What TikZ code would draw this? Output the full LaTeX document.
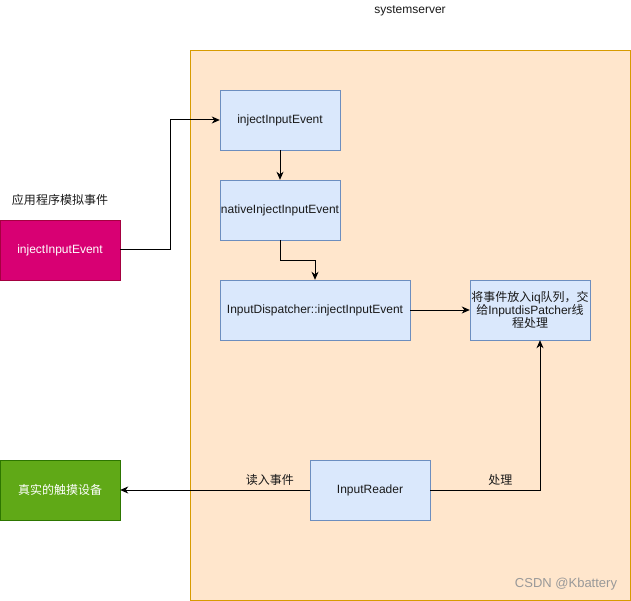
\documentclass[tikz,border=0pt]{standalone}
\usepackage{fontspec}
\setmainfont{Liberation Sans}
\newfontfamily\cjk{Noto Sans CJK SC}
\newcommand\zh[1]{{\cjk #1}}
\usetikzlibrary{arrows.meta}
\definecolor{srvfill}{HTML}{FFE6CC}
\definecolor{srvline}{HTML}{D79B00}
\definecolor{stepfill}{HTML}{DAE8FC}
\definecolor{stepline}{HTML}{6C8EBF}
\definecolor{appfill}{HTML}{D80073}
\definecolor{appline}{HTML}{A50040}
\definecolor{devfill}{HTML}{60A917}
\definecolor{devline}{HTML}{2D7600}
\tikzset{
  every node/.style={font=\fontsize{12pt}{14pt}\selectfont, text=black!90},
  stepbox/.style={draw=stepline, fill=stepfill, minimum width=120pt, minimum height=60pt, inner sep=0pt, align=center},
  outbox/.style={minimum width=120pt, minimum height=60pt, inner sep=0pt, text=white},
  flow/.style={-{Stealth[length=8pt,width=7pt,inset=2.5pt]}, line width=1pt},
}
\begin{document}
\begin{tikzpicture}[x=1pt,y=-1pt]
    \useasboundingbox (0,0) rectangle (631,601);
    %\fill[white] (0,0) rectangle (631,601);
    \node [draw=srvline, fill=srvfill, minimum width=440pt, minimum height=550pt, inner sep=0pt](server) at (410,325){};
    \node (title) at (410,11) {systemserver};

    \node [stepbox](inject) at (280,120) {injectInputEvent};
    \node [stepbox](native) at (280,210) {nativeInjectInputEvent};
    \node [stepbox, minimum width=190pt](dispatch) at (315,310) {InputDispatcher::injectInputEvent};
    \node [stepbox](queue) at (530,310) {\zh{将事件放入}iq\zh{队列，交}\\[-1pt]\zh{给}InputdisPatcher\zh{线}\\[-1pt]\zh{程处理}};
    \node [stepbox](reader) at (370,490) {InputReader};

    \node [outbox, draw=appline, fill=appfill](app) at (60,250) {injectInputEvent};
    \node (applabel) at (60,200) {\zh{应用程序模拟事件}};
    \node [outbox, draw=devline, fill=devfill](device) at (60,490) {\zh{真实的触摸设备}};

    \draw[flow] (app.east) -- ++(50,0) |- (inject.west);
    \draw[flow] (inject.south) -- (native.north);
    \draw[flow] (native.south) -- ++(0,20) -| (dispatch.north);
    \draw[flow] (dispatch.east) -- (queue.west);
    \draw[flow] (reader.west) -- node[pos=0.21, above=1pt]{\zh{读入事件}} (device.east);
    \draw[flow] (reader.east) -| node[pos=0.32, above=1pt]{\zh{处理}} ([xshift=10pt]queue.south);

    \node [text=black!40, font=\fontsize{13pt}{15pt}\selectfont](mark) at (566,584) {CSDN @Kbattery};
\end{tikzpicture}
\end{document}
